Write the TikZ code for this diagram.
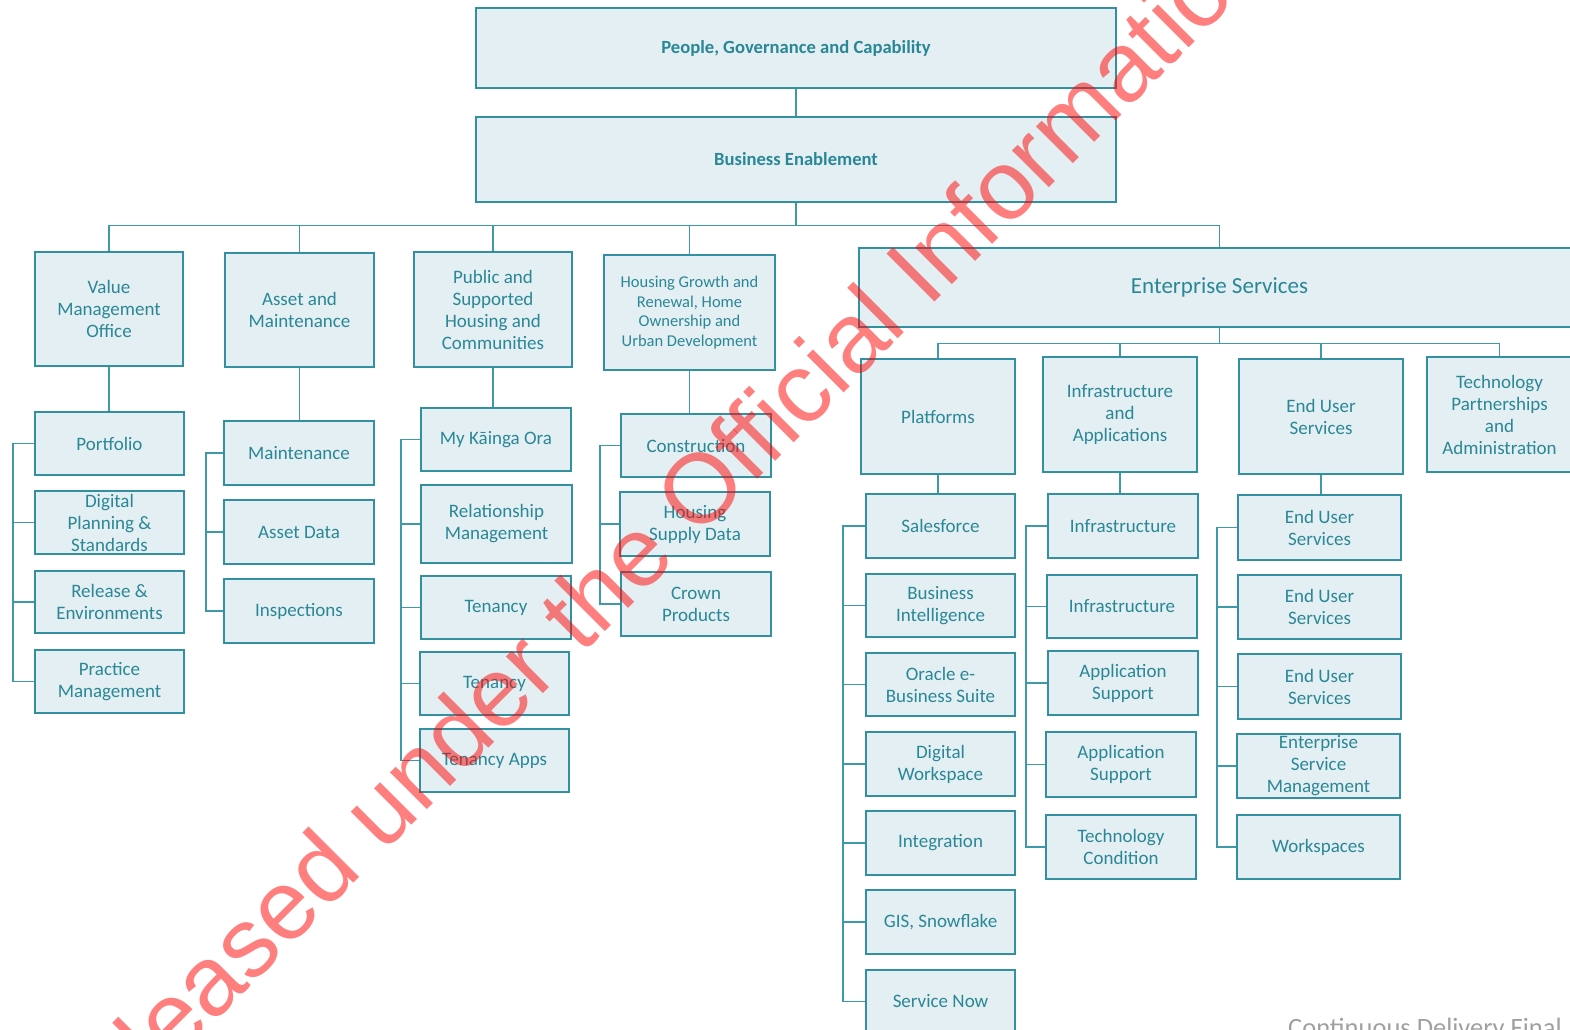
\documentclass[tikz,border=0pt]{standalone}
\usepackage{fontspec}
\setmainfont{Carlito}
\newfontfamily\wmfont{Liberation Sans}
\definecolor{boxfill}{HTML}{E3EFF2}
\definecolor{boxline}{HTML}{3390A1}
\definecolor{boxtext}{HTML}{2A8796}
\definecolor{connline}{HTML}{3E9AA9}
\definecolor{footgray}{HTML}{A0A0A0}
\newcommand\obox[7][]{\node[box,#1,minimum width={(#4-#2)*1pt},minimum height={(#5-#3)*1pt}] (#6) at ({(#2+#4)/2},{(#3+#5)/2}) {#7};}
\begin{document}
\begin{tikzpicture}[x=1pt,y=-1pt,
  box/.style={draw=boxline, fill=boxfill, line width=1.4pt, inner sep=0pt, text=boxtext, align=center, font=\fontsize{19}{22}\selectfont},
  boldbox/.style={font=\bfseries\fontsize{18.6}{22}\selectfont},
  conn/.style={draw=connline, line width=1.3pt}]
\useasboundingbox (0,0) rectangle (1570,1029);
\clip (0,0) rectangle (1570,1029);

% top
\obox[boldbox]{476}{8}{1116}{88}{pgc}{People, Governance and Capability}
\obox[boldbox]{476}{117}{1116}{202}{be}{Business Enablement}

% level 2
\obox{35}{252}{183}{366}{vmo}{Value\\Management\\Office}
\obox{225}{253}{374}{367}{am}{Asset and\\Maintenance}
\obox{414}{252}{572}{367}{psh}{Public and\\Supported\\Housing and\\Communities}
\obox[font=\fontsize{16.5}{19.5}\selectfont]{604}{255}{775}{370}{hg}{Housing Growth and\\Renewal, Home\\Ownership and\\Urban Development}
\obox[font=\fontsize{23}{27}\selectfont]{859}{248}{1580}{327}{es}{Enterprise Services}

% VMO children
\obox{35}{412}{184}{475}{port}{Portfolio}
\obox{35}{491}{184}{554}{dps}{Digital\\Planning \&\\Standards}
\obox{35}{571}{184}{633}{re}{Release \&\\Environments}
\obox{35}{650}{184}{713}{pm}{Practice\\Management}

% Asset children
\obox{224}{421}{374}{485}{mnt}{Maintenance}
\obox{224}{500}{374}{564}{ad}{Asset Data}
\obox{224}{579}{374}{643}{insp}{Inspections}

% Public children
\obox{421}{408}{571}{471}{mko}{My Kāinga Ora}
\obox{421}{485}{572}{563}{rm}{Relationship\\Management}
\obox{421}{576}{571}{639}{tenA}{Tenancy}
\obox{420}{652}{569}{715}{tenB}{Tenancy}
\obox{420}{729}{569}{792}{tapps}{Tenancy Apps}

% Housing growth children
\obox{621}{414}{771}{477}{con}{Construction}
\obox{620}{492}{770}{556}{hsd}{Housing\\Supply Data}
\obox{621}{572}{771}{636}{cp}{Crown\\Products}

% Enterprise level 3
\obox{861}{359}{1015}{474}{plat}{Platforms}
\obox{1043}{357}{1197}{472}{ia}{Infrastructure\\and\\Applications}
\obox{1239}{359}{1403}{474}{eus}{End User\\Services}
\obox{1427}{357}{1572}{472}{tpa}{Technology\\Partnerships\\and\\Administration}

% Platforms children
\obox{866}{494}{1015}{558}{sf}{Salesforce}
\obox{866}{574}{1015}{637}{bi}{Business\\Intelligence}
\obox{866}{653}{1015}{716}{oeb}{Oracle e-\\Business Suite}
\obox{866}{732}{1015}{796}{dw}{Digital\\Workspace}
\obox{866}{811}{1015}{875}{integ}{Integration}
\obox{866}{890}{1015}{954}{gis}{GIS, Snowflake}
\obox{866}{970}{1015}{1033}{sn}{Service Now}

% Infra children
\obox{1048}{494}{1198}{558}{infA}{Infrastructure}
\obox{1047}{575}{1197}{638}{infB}{Infrastructure}
\obox{1048}{651}{1198}{715}{asA}{Application\\Support}
\obox{1046}{732}{1196}{797}{asB}{Application\\Support}
\obox{1046}{815}{1196}{879}{tc}{Technology\\Condition}

% EUS children
\obox{1238}{495}{1401}{560}{euA}{End User\\Services}
\obox{1238}{575}{1401}{639}{euB}{End User\\Services}
\obox{1238}{654}{1401}{719}{euC}{End User\\Services}
\obox{1237}{734}{1400}{798}{esm}{Enterprise\\Service\\Management}
\obox{1237}{815}{1400}{879}{ws}{Workspaces}

% connectors top
\draw[conn] (pgc.south) -- (be.north);
\foreach \n in {vmo,am,psh,hg,es} \draw[conn] (be.south) -- ++(0,23) -| (\n.north);
\foreach \n in {plat,ia,eus,tpa} \draw[conn] (es.south) -- ++(0,16) -| (\n.north);

% vertical parent-child
\draw[conn] (vmo.south) -- (vmo.south |- port.north);
\draw[conn] (am.south) -- (am.south |- mnt.north);
\draw[conn] (psh.south) -- (psh.south |- mko.north);
\draw[conn] (hg.south) -- (hg.south |- con.north);
\draw[conn] (plat.south) -- (plat.south |- sf.north);
\draw[conn] (ia.south) -- (ia.south |- infA.north);
\draw[conn] (eus.south) -- (eus.south |- euA.north);

% rails
\coordinate (rA) at (13,0);
\coordinate (rB) at (206,0);
\coordinate (rC) at (401,0);
\coordinate (rD) at (600,0);
\coordinate (rE) at (843,0);
\coordinate (rF) at (1026,0);
\coordinate (rG) at (1217,0);
\draw[conn] (port.west) -- (port.west -| rA) -- (pm.west -| rA) -- (pm.west);
\foreach \n in {dps,re} \draw[conn] (\n.west) -- (\n.west -| rA);
\draw[conn] (mnt.west) -- (mnt.west -| rB) -- (insp.west -| rB) -- (insp.west);
\draw[conn] (ad.west) -- (ad.west -| rB);
\draw[conn] (mko.west) -- (mko.west -| rC) -- (tapps.west -| rC) -- (tapps.west);
\foreach \n in {rm,tenA,tenB} \draw[conn] (\n.west) -- (\n.west -| rC);
\draw[conn] (con.west) -- (con.west -| rD) -- (cp.west -| rD) -- (cp.west);
\draw[conn] (hsd.west) -- (hsd.west -| rD);
\draw[conn] (sf.west) -- (sf.west -| rE) -- (sn.west -| rE) -- (sn.west);
\foreach \n in {bi,oeb,dw,integ,gis} \draw[conn] (\n.west) -- (\n.west -| rE);
\draw[conn] (infA.west) -- (infA.west -| rF) -- (tc.west -| rF) -- (tc.west);
\foreach \n in {infB,asA,asB} \draw[conn] (\n.west) -- (\n.west -| rF);
\draw[conn] (euA.west) -- (euA.west -| rG) -- (ws.west -| rG) -- (ws.west);
\foreach \n in {euB,euC,esm} \draw[conn] (\n.west) -- (\n.west -| rG);

% footer
\node[anchor=base west, inner sep=0pt, text=footgray, font=\fontsize{26.5}{30}\selectfont] (foot) at (1288,1036) {Continuous Delivery Final};

% watermark
\node[anchor=base west, rotate=45, inner sep=0pt, text=red, text opacity=0.5, font=\wmfont\fontsize{98.6}{110}\selectfont] (wm) at (69.5,1167.5) {Released under the Official Information Act};
\end{tikzpicture}
\end{document}
